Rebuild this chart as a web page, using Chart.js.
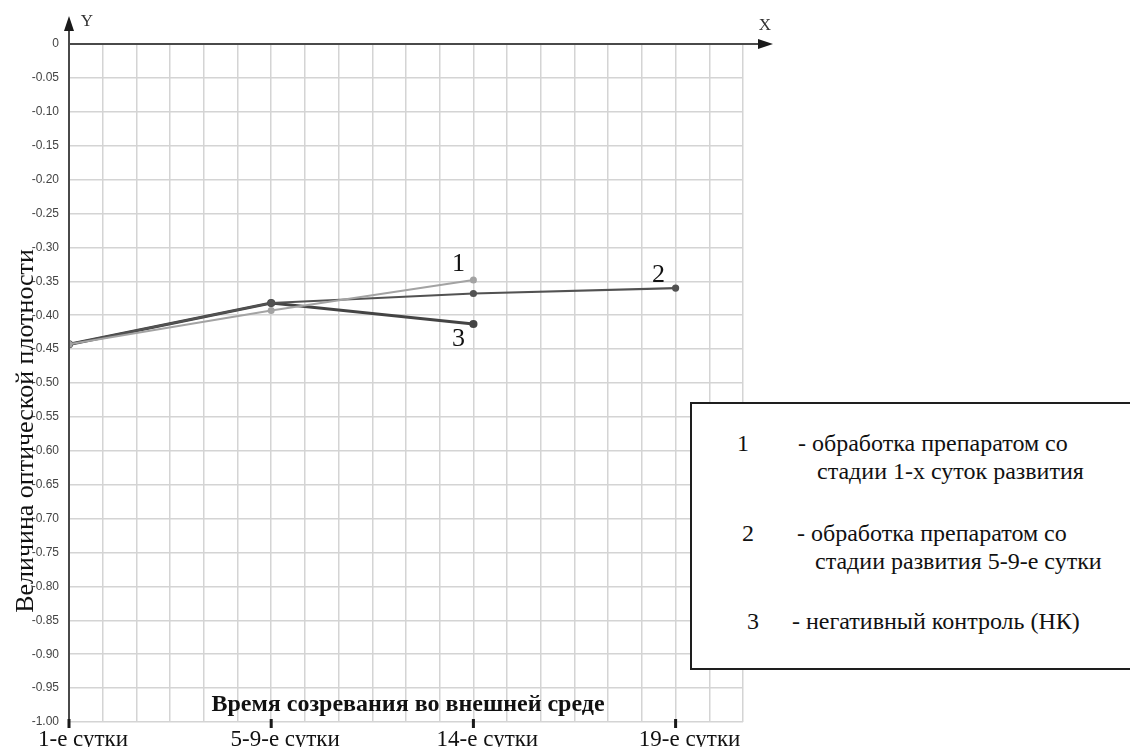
<!DOCTYPE html>
<html>
<head>
<meta charset="utf-8">
<script src="https://cdn.jsdelivr.net/npm/chart.js"></script>
<style>
    html, body { margin: 0; padding: 0; background: #fff; }
    #wrap { position: relative; width: 1130px; height: 747px; overflow: hidden; }
    #legendBox {
        position: absolute; left: 690px; top: 402px; width: 450px; height: 264px;
        border: 2px solid #1e1e1e; background: #fff;
        font-family: "Liberation Serif", "Times New Roman", serif; color: #111;
    }
    #legendBox span { position: absolute; white-space: nowrap; line-height: 1; }
    .num { font-size: 24px; }
    .txt { font-size: 24px; }
</style>
</head>
<body>
<div id="wrap">
    <canvas id="densityChart" width="1130" height="747"></canvas>
    <div id="legendBox"></div>
</div>
<script>
    // категории по оси X и номер клетки сетки, на которой стоит каждая
    const categories = ['1-е сутки', '5-9-е сутки', '14-е сутки', '19-е сутки'];
    const categorySlots = [0, 6, 12, 18];

    // величина оптической плотности (null - нет измерения)
    const series1 = [-0.443, -0.393, -0.348, null];
    const series2 = [-0.443, -0.382, -0.368, -0.360];
    const series3 = [-0.443, -0.382, -0.413, null];

    const seriesNames = ['1', '2', '3'];
    const legendLines = [
        ['- обработка препаратом со', 'стадии 1-х суток развития'],
        ['- обработка препаратом со', 'стадии развития 5-9-е сутки'],
        ['- негативный контроль (НК)']
    ];

    const xTitle = 'Время созревания во внешней среде';
    const yTitle = 'Величина оптической плотности';

    const serif = '"Liberation Serif", "Times New Roman", serif';

    function toPoints(values) {
        return values
            .map((v, i) => (v === null ? null : { x: categorySlots[i], y: v }))
            .filter(p => p !== null);
    }

    // рисуем оси со стрелками, подписи линий и заголовки осей
    const decorPlugin = {
        id: 'decor',
        afterDraw(chart) {
            const ctx = chart.ctx;
            const area = chart.chartArea;
            const xs = chart.scales.x;
            const ys = chart.scales.y;
            const y0 = ys.getPixelForValue(0);
            ctx.save();

            // ось Y
            ctx.strokeStyle = '#4a4a4a';
            ctx.fillStyle = '#1a1a1a';
            ctx.lineWidth = 2;
            ctx.beginPath();
            ctx.moveTo(area.left, area.bottom + 2);
            ctx.lineTo(area.left, 28);
            ctx.stroke();
            ctx.beginPath();
            ctx.moveTo(area.left, 16);
            ctx.lineTo(area.left - 5, 31);
            ctx.lineTo(area.left + 5, 31);
            ctx.closePath();
            ctx.fill();

            // ось X
            ctx.beginPath();
            ctx.moveTo(area.left, y0);
            ctx.lineTo(762, y0);
            ctx.stroke();
            ctx.beginPath();
            ctx.moveTo(773, y0);
            ctx.lineTo(758, y0 - 5);
            ctx.lineTo(758, y0 + 5);
            ctx.closePath();
            ctx.fill();

            ctx.font = '17px ' + serif;
            ctx.fillStyle = '#333';
            ctx.textAlign = 'center';
            ctx.textBaseline = 'middle';
            ctx.fillText('Y', area.left + 18, 22);
            ctx.fillText('X', 765, 26);

            // засечки категорий
            ctx.fillStyle = '#1a1a1a';
            categorySlots.forEach(s => {
                const px = xs.getPixelForValue(s);
                ctx.fillRect(px - 1.5, area.bottom - 3, 3, 9);
            });

            // номера кривых у последних точек
            ctx.font = '26px ' + serif;
            ctx.fillStyle = '#111';
            const offsets = [[-15, -16], [-17, -13], [-15, 15]];
            chart.data.datasets.forEach((ds, i) => {
                const meta = chart.getDatasetMeta(i);
                const last = meta.data[meta.data.length - 1];
                ctx.fillText(seriesNames[i], last.x + offsets[i][0], last.y + offsets[i][1]);
            });

            // заголовок оси X
            ctx.font = 'bold 24px ' + serif;
            ctx.fillText(xTitle, 408, 705);

            // заголовок оси Y
            ctx.translate(26, 431);
            ctx.rotate(-Math.PI / 2);
            ctx.font = '26px ' + serif;
            ctx.fillText(yTitle, 0, 0);
            ctx.restore();
        }
    };

    function buildLegend() {
        const box = document.getElementById('legendBox');
        const rows = [
            { num: [45, 27], lines: [[106, 27], [125, 55]] },
            { num: [50, 117], lines: [[105, 117], [123, 145]] },
            { num: [55, 205], lines: [[100, 205]] }
        ];
        rows.forEach((r, i) => {
            const n = document.createElement('span');
            n.className = 'num';
            n.textContent = seriesNames[i];
            n.style.left = r.num[0] + 'px';
            n.style.top = r.num[1] + 'px';
            box.appendChild(n);
            legendLines[i].forEach((t, j) => {
                const s = document.createElement('span');
                s.className = 'txt';
                s.textContent = t;
                s.style.left = r.lines[j][0] + 'px';
                s.style.top = r.lines[j][1] + 'px';
                box.appendChild(s);
            });
        });
    }

    function drawChart() {
        const ctx = document.getElementById('densityChart').getContext('2d');
        new Chart(ctx, {
            type: 'line',
            data: {
                datasets: [
                    { label: seriesNames[0], data: toPoints(series1), borderColor: '#a3a3a3', backgroundColor: '#a3a3a3', borderWidth: 2, pointRadius: 2.5 },
                    { label: seriesNames[1], data: toPoints(series2), borderColor: '#525252', backgroundColor: '#525252', borderWidth: 2.2, pointRadius: 2.5 },
                    { label: seriesNames[2], data: toPoints(series3), borderColor: '#444', backgroundColor: '#444', borderWidth: 3.2, pointRadius: 2.5 }
                ]
            },
            options: {
                responsive: false,
                animation: false,
                layout: { padding: { left: 0, top: 44, right: 387, bottom: 0 } },
                plugins: {
                    legend: { display: false },
                    tooltip: { enabled: false }
                },
                scales: {
                    x: {
                        type: 'linear',
                        min: 0,
                        max: 20,
                        afterFit(scale) { scale.height = 25; },
                        border: { display: false },
                        grid: { color: '#d4d4d4', lineWidth: 1.5, drawTicks: false },
                        ticks: {
                            stepSize: 1,
                            autoSkip: false,
                            maxRotation: 0,
                            padding: 4,
                            labelOffset: 14,
                            color: '#111',
                            font: { family: serif, size: 23 },
                            callback: v => {
                                const i = categorySlots.indexOf(v);
                                return i >= 0 ? categories[i] : '';
                            }
                        }
                    },
                    y: {
                        min: -1,
                        max: 0,
                        afterFit(scale) { scale.width = 69; },
                        border: { display: false },
                        grid: { color: '#d4d4d4', lineWidth: 1.5, drawTicks: false },
                        ticks: {
                            stepSize: 0.05,
                            padding: 10,
                            color: '#444',
                            font: { family: '"Liberation Sans", Arial, sans-serif', size: 12 },
                            callback: v => (Math.abs(v) < 1e-9 ? '0' : (Math.round(v * 100) / 100).toFixed(2))
                        }
                    }
                }
            },
            plugins: [decorPlugin]
        });
    }

    buildLegend();
    drawChart();
</script>
</body>
</html>
